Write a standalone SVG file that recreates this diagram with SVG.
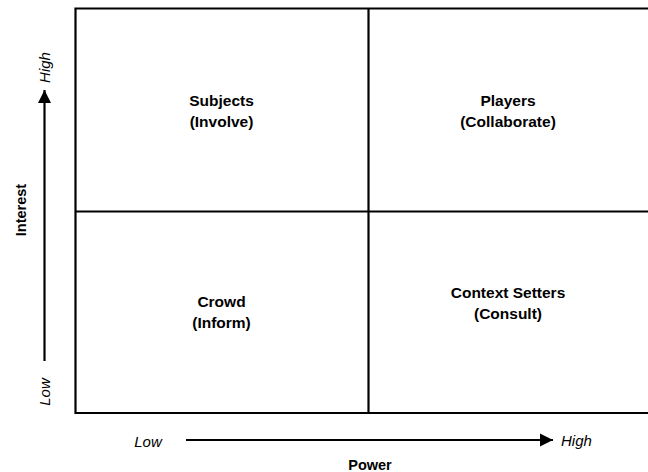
<svg xmlns="http://www.w3.org/2000/svg" width="648" height="472" viewBox="0 0 648 472">
<defs>
<style>
.grid{stroke:#000;stroke-width:2.2;fill:none}
.ax{stroke:#000;stroke-width:2.2;fill:none}
.q{font-family:"Liberation Sans",Arial,sans-serif;font-weight:bold;font-size:15.5px;fill:#000;text-anchor:middle}
.t{font-family:"Liberation Sans",Arial,sans-serif;font-weight:bold;font-size:14.5px;fill:#000;text-anchor:middle}
.l{font-family:"Liberation Sans",Arial,sans-serif;font-style:italic;font-size:15px;fill:#000}
</style>
<marker id="ah" viewBox="0 0 10 10" refX="10" refY="5" markerWidth="6" markerHeight="6" markerUnits="strokeWidth" orient="auto">
<path d="M0,0 L10,5 L0,10 z" fill="#000"/>
</marker>
</defs>
<rect width="648" height="472" fill="#fff"/>
<g id="grid">
<path class="grid" d="M650,8.5 H75.5 V413 H650"/>
<line class="grid" x1="368.5" y1="8.5" x2="368.5" y2="413"/>
<line class="grid" x1="75.5" y1="211.5" x2="650" y2="211.5"/>
</g>
<g id="q-subjects"><text class="q" x="221.5" y="106">Subjects</text><text class="q" x="221.5" y="127">(Involve)</text></g>
<g id="q-players"><text class="q" x="508" y="106">Players</text><text class="q" x="508" y="127">(Collaborate)</text></g>
<g id="q-crowd"><text class="q" x="221.5" y="307">Crowd</text><text class="q" x="221.5" y="328">(Inform)</text></g>
<g id="q-context"><text class="q" x="508" y="298">Context Setters</text><text class="q" x="508" y="319">(Consult)</text></g>
<g id="connectors">
<line class="ax" x1="44.5" y1="361" x2="44.5" y2="90" marker-end="url(#ah)"/>
<line class="ax" x1="186" y1="440" x2="553" y2="440" marker-end="url(#ah)"/>
</g>
<g id="labels">
<text class="l" transform="translate(49.5,67.5) rotate(-90)" text-anchor="middle">High</text>
<text class="l" transform="translate(49.5,392) rotate(-90)" text-anchor="middle">Low</text>
<text class="l" x="148" y="447" text-anchor="middle">Low</text>
<text class="l" x="561" y="446">High</text>
<text class="t" x="370" y="470">Power</text>
<text class="t" transform="translate(25.5,210) rotate(-90)">Interest</text>
</g>
</svg>
